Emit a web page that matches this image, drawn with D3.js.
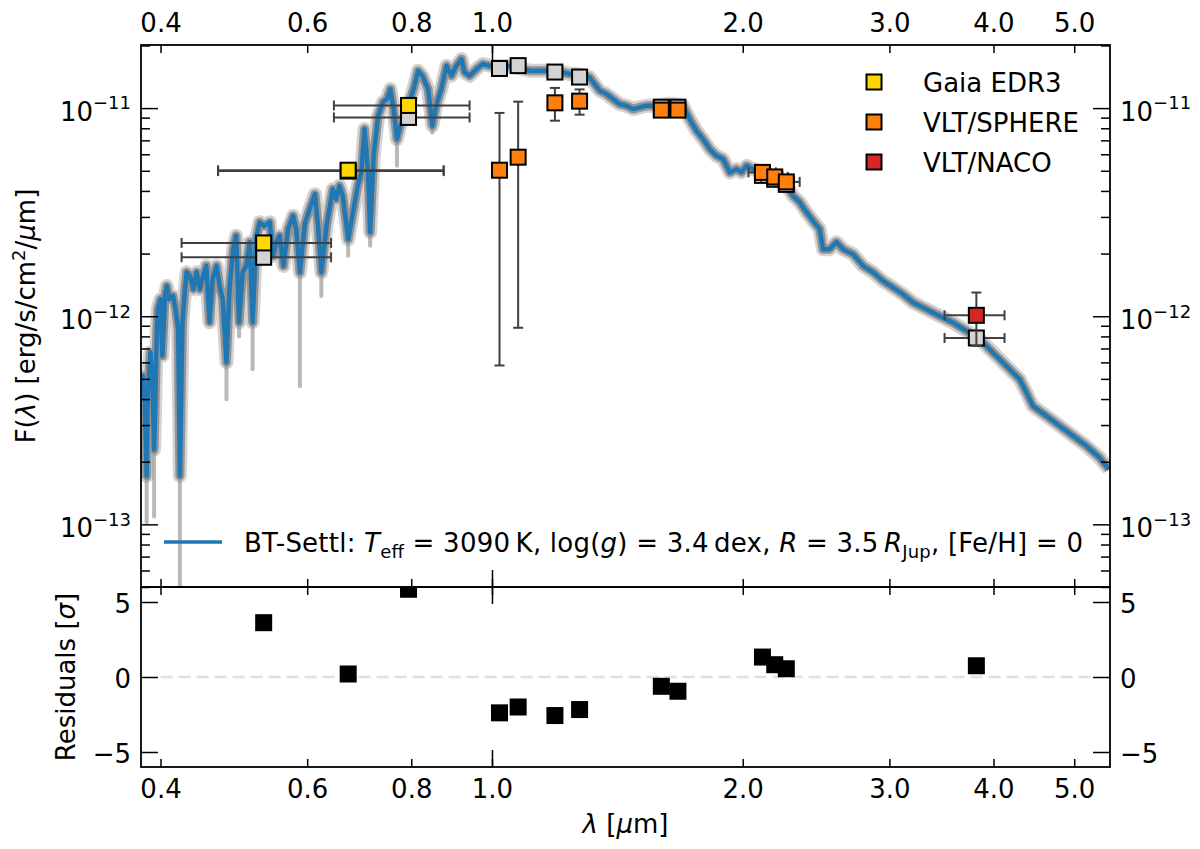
<!DOCTYPE html>
<html>
<head>
<meta charset="utf-8">
<script src="https://cdn.jsdelivr.net/npm/d3@7"></script>
<style>
  body { margin: 0; background: #fff; }
  svg { font-family: "DejaVu Sans", sans-serif; }
</style>
</head>
<body>
<div id="chart"></div>
<script>
// flux values are in units of 1e-12 erg/s/cm2/um
const fluxUnit = 1e-12;

// BT-Settl model spectrum [wavelength um, flux]
const modelSpectrum = [
  [0.379, 0.446], [0.381, 0.516], [0.383, 0.386], [0.385, 0.171], [0.386, 0.414], [0.389, 0.671],
  [0.391, 0.516], [0.393, 0.229], [0.396, 0.866], [0.397, 1.081], [0.400, 1.207], [0.402, 0.645],
  [0.405, 1.252], [0.407, 1.398], [0.410, 1.207], [0.414, 1.252], [0.417, 1.081], [0.420, 0.866],
  [0.422, 0.171], [0.425, 0.936], [0.428, 1.348], [0.430, 1.627], [0.434, 1.562], [0.438, 1.348],
  [0.442, 1.627], [0.446, 1.348], [0.450, 1.562], [0.454, 1.745], [0.458, 0.936], [0.462, 1.506],
  [0.467, 1.745], [0.471, 1.398], [0.475, 1.207], [0.480, 0.601], [0.484, 1.348], [0.489, 2.100],
  [0.493, 2.433], [0.497, 0.936], [0.502, 1.627], [0.507, 1.745], [0.512, 2.269], [0.516, 0.936],
  [0.521, 2.346], [0.526, 2.831], [0.533, 2.718], [0.541, 2.831], [0.546, 1.950], [0.551, 2.269],
  [0.556, 2.433], [0.562, 1.745], [0.569, 2.620], [0.577, 3.035], [0.582, 2.620], [0.588, 1.627],
  [0.596, 2.769], [0.604, 3.268], [0.613, 3.859], [0.618, 2.769], [0.624, 1.627], [0.633, 2.718],
  [0.639, 3.391], [0.644, 4.079], [0.650, 3.652], [0.656, 4.231], [0.662, 3.788], [0.672, 2.346],
  [0.681, 3.162], [0.690, 4.231], [0.697, 4.924], [0.703, 7.925], [0.710, 4.924], [0.714, 2.535],
  [0.721, 5.898], [0.730, 9.183], [0.740, 10.69], [0.748, 11.05], [0.755, 12.34], [0.762, 9.89],
  [0.769, 7.096], [0.776, 8.221], [0.785, 9.183], [0.796, 10.69], [0.807, 12.80], [0.815, 15.11],
  [0.825, 14.30], [0.838, 12.34], [0.848, 8.221], [0.857, 10.26], [0.869, 12.34], [0.882, 15.97],
  [0.894, 14.30], [0.906, 15.97], [0.919, 17.20], [0.927, 14.85], [0.940, 14.30], [0.958, 15.40],
  [0.975, 16.28], [0.994, 15.97], [1.021, 15.92], [1.050, 15.92], [1.080, 15.57], [1.110, 15.11],
  [1.141, 15.11], [1.162, 15.11], [1.189, 15.06], [1.217, 14.85], [1.240, 14.57], [1.263, 14.57],
  [1.285, 14.41], [1.310, 14.05], [1.328, 13.04], [1.347, 12.11], [1.372, 11.68], [1.397, 11.05],
  [1.423, 10.45], [1.450, 10.26], [1.477, 9.89], [1.504, 10.08], [1.532, 10.26], [1.561, 10.26],
  [1.590, 10.34], [1.620, 10.45], [1.657, 10.45], [1.696, 10.26], [1.727, 8.855], [1.760, 7.779],
  [1.792, 7.096], [1.826, 6.353], [1.860, 5.898], [1.894, 5.686], [1.930, 4.908], [1.966, 5.089],
  [1.993, 4.924], [2.021, 5.279], [2.058, 5.089], [2.097, 4.995], [2.142, 4.817], [2.190, 4.659],
  [2.245, 4.359], [2.298, 3.788], [2.341, 3.532], [2.385, 3.162], [2.429, 2.872], [2.474, 2.620],
  [2.497, 2.100], [2.543, 2.100], [2.591, 2.269], [2.639, 2.100], [2.713, 1.987], [2.789, 1.745],
  [2.867, 1.627], [2.947, 1.478], [3.030, 1.374], [3.114, 1.276], [3.202, 1.164], [3.322, 1.081],
  [3.447, 1.003], [3.575, 0.933], [3.710, 0.850], [3.850, 0.775], [3.994, 0.669], [4.145, 0.577],
  [4.300, 0.498], [4.381, 0.430], [4.461, 0.370], [4.629, 0.332], [4.803, 0.297], [4.983, 0.266],
  [5.171, 0.238], [5.364, 0.209], [5.504, 0.184]
];

// where the grey model samples dip below the best fit [wavelength, top, bottom]
const grayDips = [
  [0.385, 0.171, 0.102], [0.393, 0.229, 0.109], [0.422, 0.171, 0.050], [0.480, 0.601, 0.399],
  [0.497, 0.936, 0.800], [0.516, 0.936, 0.556], [0.588, 1.627, 0.461], [0.624, 1.627, 1.252],
  [0.672, 2.346, 1.950], [0.714, 2.535, 2.178], [0.769, 7.096, 5.279], [0.848, 8.221, 7.642]
];

// Gaia EDR3 (BP, G, RP)
const gaiaLambda = [0.532, 0.672, 0.794];
const gaiaLamLo = [0.424, 0.469, 0.646];
const gaiaLamHi = [0.641, 0.875, 0.940];
const gaiaFlux = [2.25, 5.03, 10.3];
const gaiaModel = [1.92, 4.98, 9.02];

// VLT/SPHERE
const sphereLambda = [1.021, 1.075, 1.190, 1.274, 1.597, 1.672, 2.112, 2.185, 2.256];
const sphereFlux = [5.03, 5.81, 10.6, 10.8, 9.78, 9.78, 4.91, 4.67, 4.42];
const sphereErr = [4.45, 4.93, 1.9, 1.5, 0.3, 0.3, 0.25, 0.25, 0.25];
const sphereLamErr = [0, 0, 0, 0, 0, 0, 0.08, 0.08, 0.085];
const sphereModel = [15.5, 16.0, 14.9, 14.1, 10.1, 10.1, 4.75, 4.55, 4.30];

// VLT/NACO
const nacoLambda = [3.815];
const nacoLamLo = [3.494];
const nacoLamHi = [4.124];
const nacoFlux = [1.01];
const nacoErr = [0.29];
const nacoModel = [0.786];

// residuals in sigma
const residLambda = [0.532, 0.672, 0.794, 1.021, 1.075, 1.190, 1.274, 1.597, 1.672, 2.112, 2.185, 2.256, 3.815];
const residValue = [3.62, 0.2, 5.85, -2.39, -2.0, -2.57, -2.17, -0.62, -0.95, 1.33, 0.82, 0.55, 0.75];
const zeroLine = [0.40, 5.26];

const xTicks = [0.4, 0.6, 0.8, 1.0, 2.0, 3.0, 4.0, 5.0];
const xMajor = [1.0];
const yMajor = [1e-13, 1e-12, 1e-11];
const residTicks = [-5, 0, 5];

const width = 1200, height = 849;
const pLeft = 141, pRight = 1110, pTop = 45, pMid = 587, pBottom = 767;

const x = d3.scaleLog().domain([0.379, 5.52]).range([pLeft, pRight]);
const yF = d3.scaleLog().domain([5e-14, 2.01e-11]).range([pMid, pTop]);
const yR = d3.scaleLinear().domain([-6, 6]).range([pBottom, pMid]);

const colors = {gaia: "#ffd700", sphere: "#ff7f0e", naco: "#d62728", model: "#d3d3d3"};
const barColor = "#404040";

const svg = d3.select("#chart").append("svg")
    .attr("width", width).attr("height", height);

const defs = svg.append("defs");
defs.append("clipPath").attr("id", "clipTop").append("rect")
    .attr("x", pLeft).attr("y", pTop).attr("width", pRight - pLeft).attr("height", pMid - pTop);
defs.append("clipPath").attr("id", "clipBot").append("rect")
    .attr("x", pLeft).attr("y", pMid).attr("width", pRight - pLeft).attr("height", pBottom - pMid);

// ---- top panel ----
const topG = svg.append("g").attr("clip-path", "url(#clipTop)");

const line = d3.line()
    .x(d => x(d[0]))
    .y(d => yF(d[1] * fluxUnit));

// grey band of model samples
topG.append("path").datum(modelSpectrum)
    .attr("d", line).attr("fill", "none")
    .attr("stroke", "#a8a8a8").attr("stroke-opacity", 0.5)
    .attr("stroke-width", 14).attr("stroke-linejoin", "round");
topG.append("path").datum(modelSpectrum)
    .attr("d", line).attr("fill", "none")
    .attr("stroke", "#858585").attr("stroke-opacity", 0.8)
    .attr("stroke-width", 9).attr("stroke-linejoin", "round");

topG.selectAll("line.dip").data(grayDips).join("line")
    .attr("class", "dip")
    .attr("x1", d => x(d[0])).attr("x2", d => x(d[0]))
    .attr("y1", d => yF(d[1] * fluxUnit)).attr("y2", d => yF(d[2] * fluxUnit))
    .attr("stroke", "#8a8a8a").attr("stroke-opacity", 0.6)
    .attr("stroke-width", 4).attr("stroke-linecap", "round");

topG.append("path").datum(modelSpectrum)
    .attr("d", line).attr("fill", "none")
    .attr("stroke", "#1f77b4").attr("stroke-width", 4.5)
    .attr("stroke-linejoin", "round");

// error bars + squares
function hBar(g, lo, hi, f) {
  const yy = yF(f * fluxUnit);
  g.append("line").attr("x1", x(lo)).attr("x2", x(hi)).attr("y1", yy).attr("y2", yy);
  g.append("line").attr("x1", x(lo)).attr("x2", x(lo)).attr("y1", yy - 5).attr("y2", yy + 5);
  g.append("line").attr("x1", x(hi)).attr("x2", x(hi)).attr("y1", yy - 5).attr("y2", yy + 5);
}
function vBar(g, lam, f, err) {
  const xx = x(lam), y0 = yF((f - err) * fluxUnit), y1 = yF((f + err) * fluxUnit);
  g.append("line").attr("x1", xx).attr("x2", xx).attr("y1", y0).attr("y2", y1);
  g.append("line").attr("x1", xx - 5).attr("x2", xx + 5).attr("y1", y0).attr("y2", y0);
  g.append("line").attr("x1", xx - 5).attr("x2", xx + 5).attr("y1", y1).attr("y2", y1);
}
function square(g, lam, f, fill, s) {
  g.append("rect")
    .attr("x", x(lam) - s / 2).attr("y", yF(f * fluxUnit) - s / 2)
    .attr("width", s).attr("height", s)
    .attr("fill", fill).attr("stroke", "black").attr("stroke-width", 2);
}

const ptsG = topG.append("g");
const barsModel = ptsG.append("g").attr("stroke", barColor).attr("stroke-width", 2);
gaiaLambda.forEach((l, i) => hBar(barsModel, gaiaLamLo[i], gaiaLamHi[i], gaiaModel[i]));
hBar(barsModel, nacoLamLo[0], nacoLamHi[0], nacoModel[0]);

gaiaLambda.forEach((l, i) => square(ptsG, l, gaiaModel[i], colors.model, 15));
sphereLambda.forEach((l, i) => square(ptsG, l, sphereModel[i], colors.model, 15));
square(ptsG, nacoLambda[0], nacoModel[0], colors.model, 15);

const barsObs = ptsG.append("g").attr("stroke", barColor).attr("stroke-width", 2);
gaiaLambda.forEach((l, i) => hBar(barsObs, gaiaLamLo[i], gaiaLamHi[i], gaiaFlux[i]));
sphereLambda.forEach((l, i) => {
  vBar(barsObs, l, sphereFlux[i], sphereErr[i]);
  if (sphereLamErr[i] > 0) hBar(barsObs, l - sphereLamErr[i], l + sphereLamErr[i], sphereFlux[i]);
});
vBar(barsObs, nacoLambda[0], nacoFlux[0], nacoErr[0]);
hBar(barsObs, nacoLamLo[0], nacoLamHi[0], nacoFlux[0]);

gaiaLambda.forEach((l, i) => square(ptsG, l, gaiaFlux[i], colors.gaia, 15));
sphereLambda.forEach((l, i) => square(ptsG, l, sphereFlux[i], colors.sphere, 15));
square(ptsG, nacoLambda[0], nacoFlux[0], colors.naco, 15);

// ---- bottom panel ----
const botG = svg.append("g").attr("clip-path", "url(#clipBot)");
botG.append("line")
    .attr("x1", x(zeroLine[0])).attr("x2", x(zeroLine[1]))
    .attr("y1", yR(0)).attr("y2", yR(0))
    .attr("stroke", "#e0e0e0").attr("stroke-width", 2.5).attr("stroke-dasharray", "12,6");
botG.selectAll("rect.res").data(residLambda).join("rect")
    .attr("class", "res")
    .attr("x", d => x(d) - 8.5).attr("y", (d, i) => yR(residValue[i]) - 8.5)
    .attr("width", 17).attr("height", 17).attr("fill", "black");

// ---- axes ----
const fmt = d3.format(".1f");
function styleAxis(g) {
  g.select(".domain").remove();
  g.selectAll("line").attr("stroke", "black").attr("stroke-width", 1.5);
  g.selectAll("text").attr("fill", "black").style("font-size", "26px")
    .style("font-family", '"DejaVu Sans", sans-serif');
}

// x axes: labelled (minor) ticks + major tick at 1.0
[[pTop, "top", true], [pMid, "bottom", false], [pMid, "top", false], [pBottom, "bottom", true]]
  .forEach(([yy, side, labels]) => {
    const mk = side === "top" ? d3.axisTop : d3.axisBottom;
    svg.append("g").attr("transform", `translate(0,${yy})`)
      .call(mk(x).tickValues(xTicks).tickSize(-8)
        .tickPadding(side === "top" ? 13 : 12.5)
        .tickFormat(labels ? fmt : () => ""))
      .call(styleAxis);
    svg.append("g").attr("transform", `translate(0,${yy})`)
      .call(mk(x).tickValues(xMajor).tickSize(-17).tickFormat(() => ""))
      .call(styleAxis);
  });

// y axes
const yMinor = [];
[-14, -13, -12, -11].forEach(e => {
  for (let m = 2; m <= 9; m++) {
    const v = m * Math.pow(10, e);
    if (v >= 5e-14 && v <= 2.01e-11) yMinor.push(v);
  }
});
function powLabel(sel) {
  sel.selectAll("text").each(function(d) {
    const t = d3.select(this).text(null).attr("dy", "0.46em");
    t.append("tspan").text("10");
    t.append("tspan").attr("dy", "-0.62em").style("font-size", "18px")
      .text("\u2212" + Math.abs(Math.round(Math.log10(d))));
  });
}
[[pLeft, d3.axisLeft], [pRight, d3.axisRight]].forEach(([xx, mk]) => {
  svg.append("g").attr("transform", `translate(${xx},0)`)
    .call(mk(yF).tickValues(yMinor).tickSize(-9).tickFormat(() => ""))
    .call(styleAxis);
  svg.append("g").attr("transform", `translate(${xx},0)`)
    .call(mk(yF).tickValues(yMajor).tickSize(-17).tickPadding(10))
    .call(styleAxis).call(powLabel);
  svg.append("g").attr("transform", `translate(${xx},0)`)
    .call(mk(yR).tickValues(residTicks).tickSize(-17).tickPadding(10)
      .tickFormat(d => d < 0 ? "\u2212" + Math.abs(d) : String(d)))
    .call(styleAxis)
    .call(g => g.selectAll("text").attr("dy", "0.42em"));
});

// frames
svg.append("rect").attr("x", pLeft).attr("y", pTop).attr("width", pRight - pLeft).attr("height", pMid - pTop)
    .attr("fill", "none").attr("stroke", "black").attr("stroke-width", 1.8);
svg.append("rect").attr("x", pLeft).attr("y", pMid).attr("width", pRight - pLeft).attr("height", pBottom - pMid)
    .attr("fill", "none").attr("stroke", "black").attr("stroke-width", 1.8);

// ---- labels ----
const yl = svg.append("text").attr("transform", `translate(35,${(pTop + pMid) / 2}) rotate(-90)`)
    .attr("text-anchor", "middle").style("font-size", "26px");
yl.append("tspan").text("F(");
yl.append("tspan").attr("font-style", "italic").text("\u03bb");
yl.append("tspan").text(") [erg/s/cm");
yl.append("tspan").attr("dy", -10).style("font-size", "18px").text("2");
yl.append("tspan").attr("dy", 10).text("/");
yl.append("tspan").attr("font-style", "italic").text("\u03bc");
yl.append("tspan").text("m]");

const rl = svg.append("text").attr("transform", `translate(75,${(pMid + pBottom) / 2}) rotate(-90)`)
    .attr("text-anchor", "middle").style("font-size", "26px");
rl.append("tspan").text("Residuals [");
rl.append("tspan").attr("font-style", "italic").text("\u03c3");
rl.append("tspan").text("]");

const xl = svg.append("text").attr("x", (pLeft + pRight) / 2).attr("y", 833)
    .attr("text-anchor", "middle").style("font-size", "26px");
xl.append("tspan").attr("font-style", "italic").text("\u03bb");
xl.append("tspan").text(" [");
xl.append("tspan").attr("font-style", "italic").text("\u03bc");
xl.append("tspan").text("m]");

// ---- legends ----
const legendItems = [["Gaia EDR3", colors.gaia], ["VLT/SPHERE", colors.sphere], ["VLT/NACO", colors.naco]];
legendItems.forEach(([name, c], i) => {
  const yy = 82 + i * 40;
  svg.append("rect").attr("x", 874 - 7.5).attr("y", yy - 7.5).attr("width", 15).attr("height", 15)
    .attr("fill", c).attr("stroke", "black").attr("stroke-width", 2);
  svg.append("text").attr("x", 923).attr("y", yy + 9.5).style("font-size", "26px").text(name);
});

svg.append("line").attr("x1", 164).attr("x2", 222).attr("y1", 542).attr("y2", 542)
    .attr("stroke", "#1f77b4").attr("stroke-width", 3.5);
const lt = svg.append("text").attr("x", 244).attr("y", 552).style("font-size", "26px")
    .attr("textLength", 839).attr("lengthAdjust", "spacing");
lt.append("tspan").text("BT-Settl: ");
lt.append("tspan").attr("font-style", "italic").text("T");
lt.append("tspan").attr("dy", 6).style("font-size", "18px").text("eff");
lt.append("tspan").attr("dy", -6).text(" = 3090\u2009K, log(");
lt.append("tspan").attr("font-style", "italic").text("g");
lt.append("tspan").text(") = 3.4\u2009dex, ");
lt.append("tspan").attr("font-style", "italic").text("R");
lt.append("tspan").text(" = 3.5\u2009");
lt.append("tspan").attr("font-style", "italic").text("R");
lt.append("tspan").attr("dy", 6).style("font-size", "18px").text("Jup");
lt.append("tspan").attr("dy", -6).text(", [Fe/H] = 0");
</script>
</body>
</html>
